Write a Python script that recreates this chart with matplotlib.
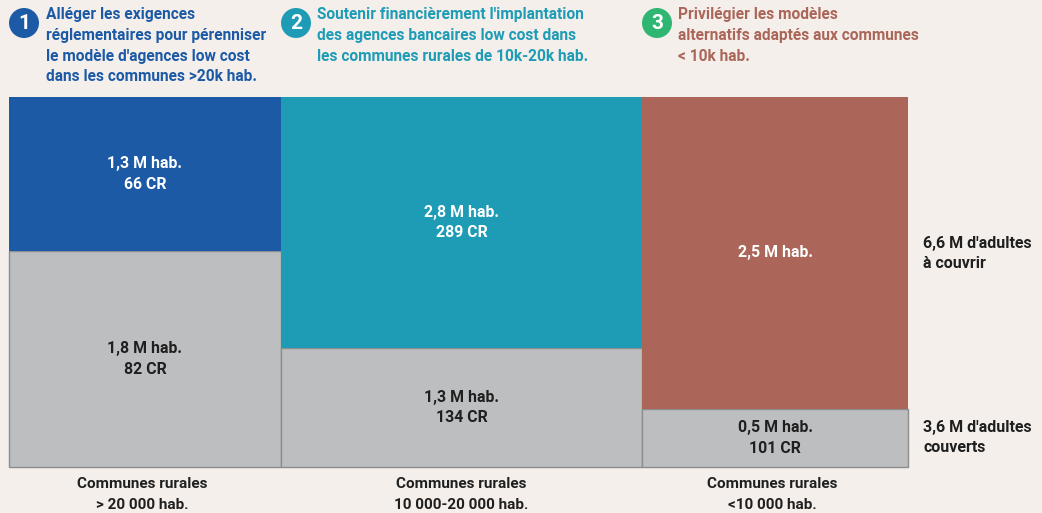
import matplotlib
matplotlib.use("Agg")
import matplotlib.pyplot as plt
from matplotlib.patches import Circle
from matplotlib.transforms import Affine2D

uncovered = [1.286, 2.779, 2.544]
covered = [1.800, 1.317, 0.474]
colors = ["#1c5aa6", "#1e9cb6", "#ab6659"]
grey = "#bdbec0"
edge = "#8c8d8f"
top_labels = ["1,3 M hab.\n66 CR", "2,8 M hab.\n289 CR", "2,5 M hab."]
bottom_labels = ["1,8 M hab.\n82 CR", "1,3 M hab.\n134 CR", "0,5 M hab.\n101 CR"]
col_labels = ["Communes rurales\n> 20 000 hab.", "Communes rurales\n10 000-20 000 hab.", "Communes rurales\n<10 000 hab."]
headers = ["Alléger les exigences\nréglementaires pour pérenniser\nle modèle d'agences low cost\ndans les communes >20k hab.",
           "Soutenir financièrement l'implantation\ndes agences bancaires low cost dans\nles communes rurales de 10k-20k hab.",
           "Privilégier les modèles\nalternatifs adaptés aux communes\n< 10k hab."]
header_colors = ["#1c5aa6", "#1e9cb6", "#ab6659"]
badge_colors = ["#1c5aa6", "#1e9cb6", "#2fb673"]
side_labels = ["6,6 M d'adultes\nà couvrir", "3,6 M d'adultes\ncouverts"]

W, H = 1042, 513
BG = "#f4efeb"
DARK = "#1f1f1f"
plt.rcParams["font.family"] = ["Roboto", "DejaVu Sans"]
fig = plt.figure(figsize=(W / 100, H / 100), dpi=100, facecolor=BG)
ax = fig.add_axes([9 / W, 1 - 467 / H, 899 / W, 370 / H])
totals = [u + c for u, c in zip(uncovered, covered)]
ax.set_xlim(0, sum(totals))
ax.set_ylim(0, 1)
ax.axis("off")

pix = Affine2D().scale(1, -1).translate(0, H)
to_pix = ax.transData + Affine2D().scale(1, -1).translate(0, H)


def lines(cx, cy, label, color, ha="center", gap=20.5, fs=11.4):
    rows = label.split("\n")
    y0 = cy - gap * (len(rows) - 1) / 2
    for k, row in enumerate(rows):
        fig.text(cx, y0 + k * gap, row, transform=pix, ha=ha, va="center",
                 fontsize=fs, fontweight="bold", color=color)


left = 0
for t, u, c, col, tl, bl in zip(totals, uncovered, covered, colors, top_labels, bottom_labels):
    sc = c / t
    ax.bar(left, sc, width=t, align="edge", color=grey, edgecolor=edge, linewidth=1.0, clip_on=False)
    ax.bar(left, 1 - sc, width=t, bottom=sc, align="edge", color=col, linewidth=0)
    lines(*to_pix.transform((left + t / 2, sc / 2)), bl, DARK)
    lines(*to_pix.transform((left + t / 2, sc + (1 - sc) / 2)), tl, "white")
    left += t

for cx, lab in zip([142.5, 461, 772.5], col_labels):
    lines(cx, 494.5, lab, DARK, gap=21, fs=10.95)

for y, lab in zip([253.5, 437.5], side_labels):
    lines(923, y, lab, DARK, ha="left", gap=20, fs=11.5)

for i, (bx, tx, h, hc, bc) in enumerate(zip([24, 296, 657], [46, 317, 678], headers, header_colors, badge_colors)):
    fig.patches.append(Circle((bx, 23), 15, transform=pix, facecolor=bc, edgecolor="none", figure=fig))
    fig.text(bx, 23.5, str(i + 1), transform=pix, ha="center", va="center", color="white", fontsize=15, fontweight="bold")
    for j, line in enumerate(h.split("\n")):
        fig.text(tx, 15 + j * 20.6, line, transform=pix, ha="left", va="center", color=hc,
                 fontsize=11.2, fontweight="bold")

fig.savefig("out.png", dpi=100, facecolor=BG)
